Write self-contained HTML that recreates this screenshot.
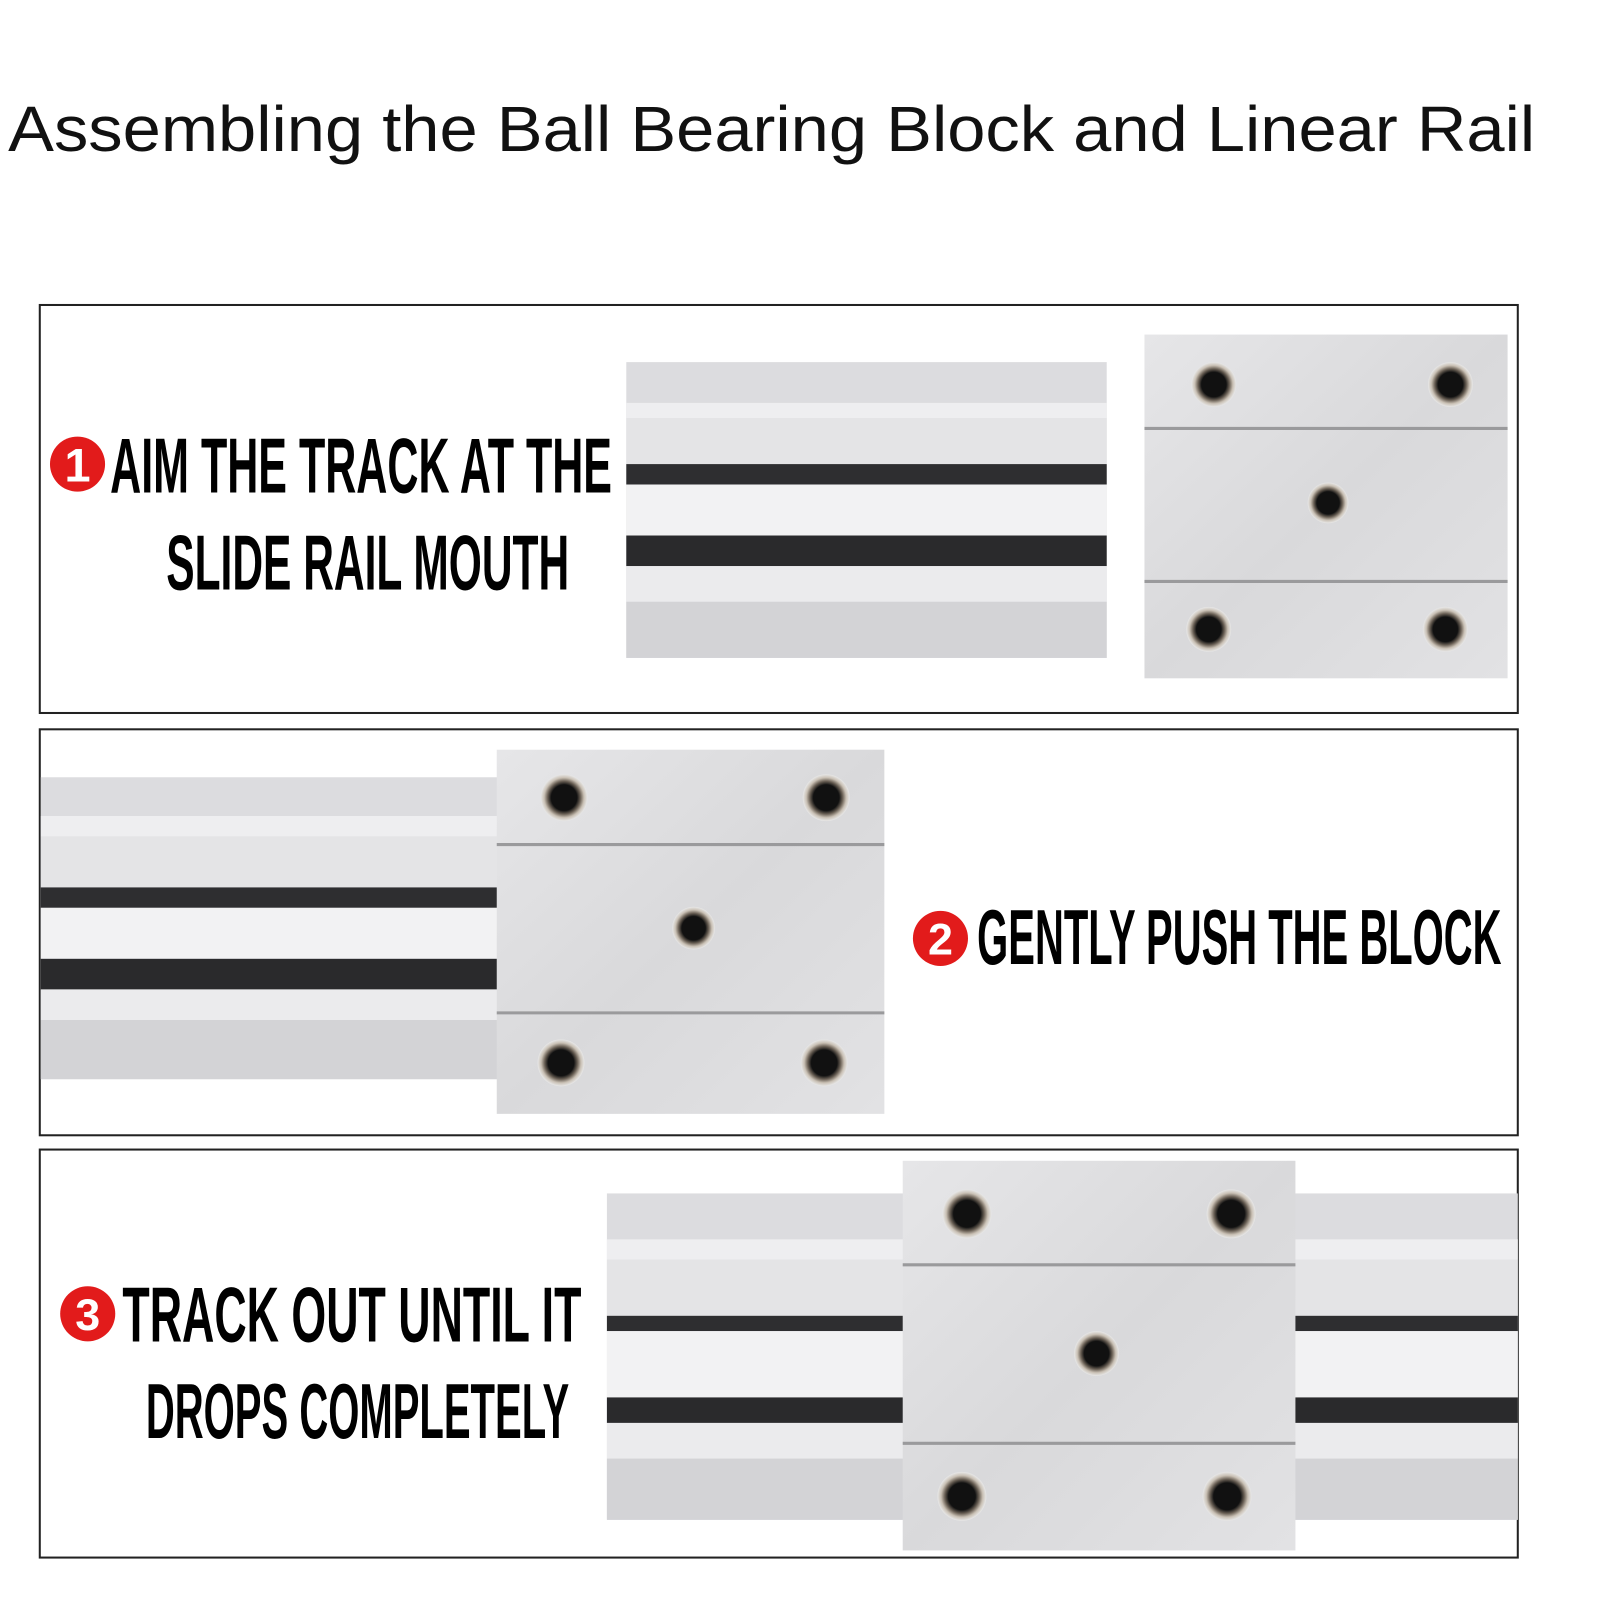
<!DOCTYPE html>
<html><head><meta charset="utf-8"><style>html,body{margin:0;padding:0;background:#fff;}svg{display:block}</style></head>
<body>
<svg width="1600" height="1600" viewBox="0 0 1568.6 1568.6" xmlns="http://www.w3.org/2000/svg">
<defs>
<linearGradient id="blk" x1="0" y1="0" x2="1" y2="1">
<stop offset="0" stop-color="#e6e6e8"/><stop offset="0.5" stop-color="#d9d9db"/><stop offset="1" stop-color="#e2e2e4"/>
</linearGradient>
<radialGradient id="hole"><stop offset="0.55" stop-color="#111"/><stop offset="0.7" stop-color="#6a6055"/><stop offset="0.85" stop-color="#c9c0b4"/><stop offset="1" stop-color="#e8e8e8"/></radialGradient>
</defs>
<rect width="1568.6" height="1568.6" fill="#fff"/>
<text x="8" y="148" font-family="Liberation Sans, sans-serif" font-size="63" fill="#111" textLength="1497" lengthAdjust="spacingAndGlyphs">Assembling the Ball Bearing Block and Linear Rail</text>

<!-- boxes -->
<rect x="39" y="299" width="1449" height="400" fill="none" stroke="#222" stroke-width="2"/>
<rect x="39" y="715" width="1449" height="398" fill="none" stroke="#222" stroke-width="2"/>
<rect x="39" y="1127" width="1449" height="400" fill="none" stroke="#222" stroke-width="2"/>

<!-- rail 1 -->
<g>
<rect x="614" y="355" width="471" height="290" fill="#dcdcdf"/>
<rect x="614" y="395" width="471" height="15" fill="#eeeef0"/>
<rect x="614" y="410" width="471" height="45" fill="#e4e4e6"/>
<rect x="614" y="455" width="471" height="20" fill="#2e2e30"/>
<rect x="614" y="475" width="471" height="50" fill="#f2f2f3"/>
<rect x="614" y="525" width="471" height="30" fill="#2a2a2c"/>
<rect x="614" y="555" width="471" height="35" fill="#ebebed"/>
<rect x="614" y="590" width="471" height="55" fill="#d3d3d6"/>
</g>
<!-- block 1 -->
<rect x="1122" y="328" width="356" height="337" fill="url(#blk)"/>
<line x1="1122" y1="420" x2="1478" y2="420" stroke="#9a9a9c" stroke-width="3"/>
<line x1="1122" y1="570" x2="1478" y2="570" stroke="#9a9a9c" stroke-width="3"/>
<circle cx="1190" cy="377" r="22" fill="url(#hole)"/><circle cx="1422" cy="377" r="22" fill="url(#hole)"/>
<circle cx="1185" cy="617" r="22" fill="url(#hole)"/><circle cx="1417" cy="617" r="22" fill="url(#hole)"/>
<circle cx="1302" cy="493" r="20" fill="url(#hole)"/>

<!-- rail 2 -->
<g>
<rect x="40" y="762" width="450" height="296" fill="#dcdcdf"/>
<rect x="40" y="800" width="450" height="20" fill="#eeeef0"/>
<rect x="40" y="820" width="450" height="50" fill="#e4e4e6"/>
<rect x="40" y="870" width="450" height="20" fill="#2e2e30"/>
<rect x="40" y="890" width="450" height="50" fill="#f2f2f3"/>
<rect x="40" y="940" width="450" height="30" fill="#2a2a2c"/>
<rect x="40" y="970" width="450" height="30" fill="#ebebed"/>
<rect x="40" y="1000" width="450" height="58" fill="#d3d3d6"/>
</g>
<rect x="487" y="735" width="380" height="357" fill="url(#blk)"/>
<line x1="487" y1="828" x2="867" y2="828" stroke="#9a9a9c" stroke-width="3"/>
<line x1="487" y1="993" x2="867" y2="993" stroke="#9a9a9c" stroke-width="3"/>
<circle cx="553" cy="782" r="23" fill="url(#hole)"/><circle cx="810" cy="782" r="23" fill="url(#hole)"/>
<circle cx="550" cy="1042" r="23" fill="url(#hole)"/><circle cx="808" cy="1042" r="23" fill="url(#hole)"/>
<circle cx="680" cy="910" r="21" fill="url(#hole)"/>

<!-- rail 3 -->
<g>
<rect x="595" y="1170" width="893" height="320" fill="#dcdcdf"/>
<rect x="595" y="1215" width="893" height="20" fill="#eeeef0"/>
<rect x="595" y="1235" width="893" height="55" fill="#e4e4e6"/>
<rect x="595" y="1290" width="893" height="15" fill="#2e2e30"/>
<rect x="595" y="1305" width="893" height="65" fill="#f2f2f3"/>
<rect x="595" y="1370" width="893" height="25" fill="#2a2a2c"/>
<rect x="595" y="1395" width="893" height="35" fill="#ebebed"/>
<rect x="595" y="1430" width="893" height="60" fill="#d3d3d6"/>
</g>
<rect x="885" y="1138" width="385" height="382" fill="url(#blk)"/>
<line x1="885" y1="1240" x2="1270" y2="1240" stroke="#9a9a9c" stroke-width="3"/>
<line x1="885" y1="1415" x2="1270" y2="1415" stroke="#9a9a9c" stroke-width="3"/>
<circle cx="948" cy="1190" r="24" fill="url(#hole)"/><circle cx="1207" cy="1190" r="24" fill="url(#hole)"/>
<circle cx="943" cy="1467" r="24" fill="url(#hole)"/><circle cx="1203" cy="1467" r="24" fill="url(#hole)"/>
<circle cx="1075" cy="1327" r="22" fill="url(#hole)"/>

<!-- labels -->
<g font-family="Liberation Sans, sans-serif" font-weight="bold" fill="#000">
<circle cx="76" cy="455" r="27" fill="#e21b1b"/>
<text x="76" y="472" font-size="46" fill="#fff" text-anchor="middle">1</text>
<text x="108" y="483" font-size="76" textLength="492" lengthAdjust="spacingAndGlyphs">AIM THE TRACK AT THE</text>
<text x="163" y="578" font-size="76" textLength="395" lengthAdjust="spacingAndGlyphs">SLIDE RAIL MOUTH</text>

<circle cx="922" cy="920" r="27" fill="#e21b1b"/>
<text x="922" y="936" font-size="44" fill="#fff" text-anchor="middle">2</text>
<text x="958" y="945" font-size="76" textLength="514" lengthAdjust="spacingAndGlyphs">GENTLY PUSH THE BLOCK</text>

<circle cx="86" cy="1288" r="27" fill="#e21b1b"/>
<text x="86" y="1304" font-size="44" fill="#fff" text-anchor="middle">3</text>
<text x="120" y="1315" font-size="76" textLength="450" lengthAdjust="spacingAndGlyphs">TRACK OUT UNTIL IT</text>
<text x="143" y="1410" font-size="76" textLength="415" lengthAdjust="spacingAndGlyphs">DROPS COMPLETELY</text>
</g>
</svg>
</body></html>
